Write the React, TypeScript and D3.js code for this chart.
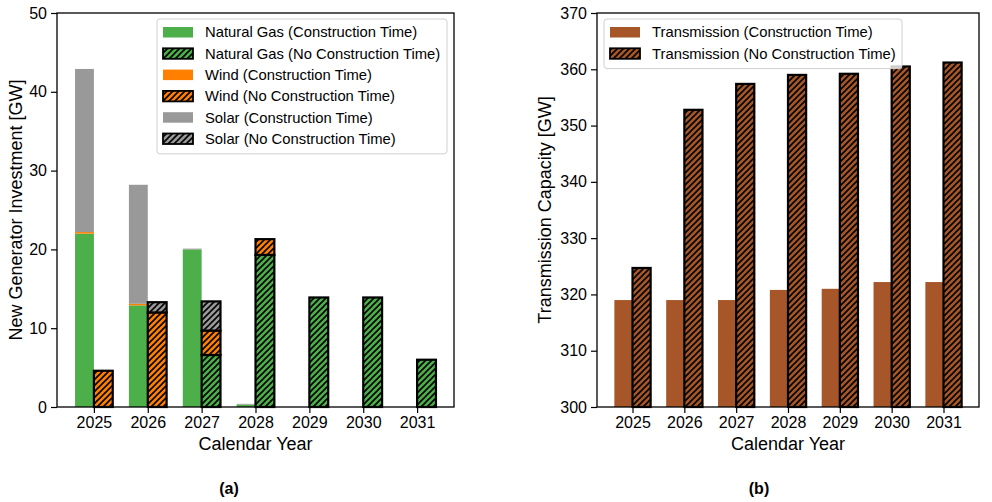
import React, { useRef, useEffect } from "react";
import * as d3 from "d3";

const years = [2025, 2026, 2027, 2028, 2029, 2030, 2031];

// left panel, GW
const gasCT = [22.0, 12.9, 20.0, 0.3, 0, 0, 0];
const windCT = [0.2, 0.2, 0, 0, 0, 0, 0];
const solarCT = [20.7, 15.1, 0.1, 0.1, 0, 0, 0];
const gasNCT = [0, 0, 6.6, 19.3, 13.9, 13.9, 6.0];
const windNCT = [4.6, 12.0, 3.1, 2.0, 0, 0, 0];
const solarNCT = [0, 1.3, 3.7, 0, 0, 0, 0];

// right panel, GW
const transCT = [319.0, 319.0, 319.0, 320.8, 321.0, 322.2, 322.2];
const transNCT = [324.7, 352.8, 357.4, 359.0, 359.2, 360.5, 361.2];

const leftTicks = [0, 10, 20, 30, 40, 50];
const rightTicks = [300, 310, 320, 330, 340, 350, 360, 370];

const leftLegend = [
  { label: "Natural Gas (Construction Time)", color: "#4daf4a", hatch: false },
  { label: "Natural Gas (No Construction Time)", color: "#4daf4a", hatch: true },
  { label: "Wind (Construction Time)", color: "#ff7f00", hatch: false },
  { label: "Wind (No Construction Time)", color: "#ff7f00", hatch: true },
  { label: "Solar (Construction Time)", color: "#999999", hatch: false },
  { label: "Solar (No Construction Time)", color: "#999999", hatch: true },
];
const rightLegend = [
  { label: "Transmission (Construction Time)", color: "#a65628", hatch: false },
  { label: "Transmission (No Construction Time)", color: "#a65628", hatch: true },
];

const FONT = "'Liberation Sans', Arial, sans-serif";
const W = 992;
const H = 502;

export default function App() {
  const svgRef = useRef<SVGSVGElement | null>(null);

  useEffect(() => {
    const svg = d3.select(svgRef.current);
    svg.selectAll("*").remove();

    const defs = svg.append("defs");
    const patId = (c: string) => "hatch" + c.replace("#", "");
    ["#4daf4a", "#ff7f00", "#999999", "#a65628"].forEach((c) => {
      const p = defs
        .append("pattern")
        .attr("id", patId(c))
        .attr("patternUnits", "userSpaceOnUse")
        .attr("width", 6)
        .attr("height", 6);
      p.append("rect").attr("width", 6).attr("height", 6).attr("fill", c);
      p.append("path")
        .attr("d", "M-1,1 L1,-1 M0,6 L6,0 M5,7 L7,5")
        .attr("stroke", "#000")
        .attr("stroke-width", 1.6);
    });

    const xDomain: [number, number] = [2024.315, 2031.685];
    const bw = 0.35;

    function panel(opts) {
      const { x0, x1, y0, y1, yDomain, ticks, ylabel, ylabelX, tag, tagX } = opts;
      const x = d3.scaleLinear().domain(xDomain).range([x0, x1]);
      const y = d3.scaleLinear().domain(yDomain).range([y0, y1]);
      const g = svg.append("g");

      const drawStack = (series, offset, hatched) => {
        years.forEach((yr, i) => {
          let base = yDomain[0];
          series.forEach(({ values, color }) => {
            const v = values[i];
            const top = base + v;
            const bx = x(yr + offset - bw / 2);
            const bwPx = x(yr + offset + bw / 2) - bx;
            if (hatched) {
              g.append("rect")
                .attr("x", bx)
                .attr("y", y(top))
                .attr("width", bwPx)
                .attr("height", y(base) - y(top))
                .attr("fill", `url(#${patId(color)})`)
                .attr("stroke", "#000")
                .attr("stroke-width", 2.2);
            } else if (v > 0) {
              g.append("rect")
                .attr("x", bx)
                .attr("y", y(top))
                .attr("width", bwPx)
                .attr("height", y(base) - y(top))
                .attr("fill", color);
            }
            base = top;
          });
        });
      };
      opts.stacks.forEach((s) => drawStack(s.series, s.offset, s.hatched));

      // frame
      g.append("rect")
        .attr("x", x0)
        .attr("y", y1)
        .attr("width", x1 - x0)
        .attr("height", y0 - y1)
        .attr("fill", "none")
        .attr("stroke", "#000")
        .attr("stroke-width", 1.3);

      const yAxis = g
        .append("g")
        .attr("transform", `translate(${x0},0)`)
        .call(d3.axisLeft(y).tickValues(ticks).tickSize(6).tickPadding(4).tickFormat(d3.format("d")));
      const xAxis = g
        .append("g")
        .attr("transform", `translate(0,${y0})`)
        .call(d3.axisBottom(x).tickValues(years).tickSize(6).tickPadding(4).tickFormat(d3.format("d")));
      [yAxis, xAxis].forEach((a) => {
        a.select(".domain").remove();
        a.selectAll("line").attr("stroke", "#000").attr("stroke-width", 1.2);
        a.selectAll("text").attr("fill", "#000").style("font-size", "16px").style("font-family", FONT);
      });

      g.append("text")
        .attr("x", (x0 + x1) / 2)
        .attr("y", 450)
        .attr("text-anchor", "middle")
        .style("font-size", "18px")
        .style("font-family", FONT)
        .text("Calendar Year");
      g.append("text")
        .attr("transform", `translate(${ylabelX},${(y0 + y1) / 2}) rotate(-90)`)
        .attr("text-anchor", "middle")
        .attr("dy", "0.35em")
        .style("font-size", "18px")
        .style("font-family", FONT)
        .text(ylabel);
      g.append("text")
        .attr("x", tagX)
        .attr("y", 494)
        .attr("text-anchor", "middle")
        .style("font-size", "16px")
        .style("font-weight", "bold")
        .style("font-family", FONT)
        .text(tag);

      // legend
      const L = opts.legend;
      const lg = g.append("g");
      lg.append("rect")
        .attr("x", L.x)
        .attr("y", L.y)
        .attr("width", L.w)
        .attr("height", L.items.length * 21.3 + 7)
        .attr("rx", 3)
        .attr("fill", "#fff")
        .attr("fill-opacity", 0.8)
        .attr("stroke", "#d0d0d0")
        .attr("stroke-width", 1);
      L.items.forEach((it, i) => {
        const cy = L.y + 13 + i * 21.3;
        lg.append("rect")
          .attr("x", L.x + 6)
          .attr("y", cy - 5)
          .attr("width", 30)
          .attr("height", 10.5)
          .attr("fill", it.hatch ? `url(#${patId(it.color)})` : it.color)
          .attr("stroke", it.hatch ? "#000" : "none")
          .attr("stroke-width", 1.8);
        lg.append("text")
          .attr("x", L.x + 48)
          .attr("y", cy)
          .attr("dy", "0.36em")
          .style("font-size", "14.8px")
          .style("font-family", FONT)
          .text(it.label);
      });
    }

    panel({
      x0: 57,
      x1: 454,
      y0: 407,
      y1: 13,
      yDomain: [0, 50],
      ticks: leftTicks,
      ylabel: "New Generator Investment [GW]",
      ylabelX: 16,
      tag: "(a)",
      tagX: 229,
      stacks: [
        {
          offset: -bw / 2,
          hatched: false,
          series: [
            { values: gasCT, color: "#4daf4a" },
            { values: windCT, color: "#ff7f00" },
            { values: solarCT, color: "#999999" },
          ],
        },
        {
          offset: bw / 2,
          hatched: true,
          series: [
            { values: gasNCT, color: "#4daf4a" },
            { values: windNCT, color: "#ff7f00" },
            { values: solarNCT, color: "#999999" },
          ],
        },
      ],
      legend: { x: 157, y: 19, w: 290, items: leftLegend },
    });

    panel({
      x0: 597,
      x1: 979,
      y0: 407,
      y1: 13,
      yDomain: [300, 370],
      ticks: rightTicks,
      ylabel: "Transmission Capacity [GW]",
      ylabelX: 545,
      tag: "(b)",
      tagX: 759,
      stacks: [
        { offset: -bw / 2, hatched: false, series: [{ values: transCT.map((v) => v - 300), color: "#a65628" }] },
        { offset: bw / 2, hatched: true, series: [{ values: transNCT.map((v) => v - 300), color: "#a65628" }] },
      ],
      legend: { x: 604, y: 19, w: 298, items: rightLegend },
    });
  }, []);

  return (
    <svg
      ref={svgRef}
      width={W}
      height={H}
      style={{ position: "absolute", left: 0, top: 0, background: "#fff" }}
    />
  );
}
